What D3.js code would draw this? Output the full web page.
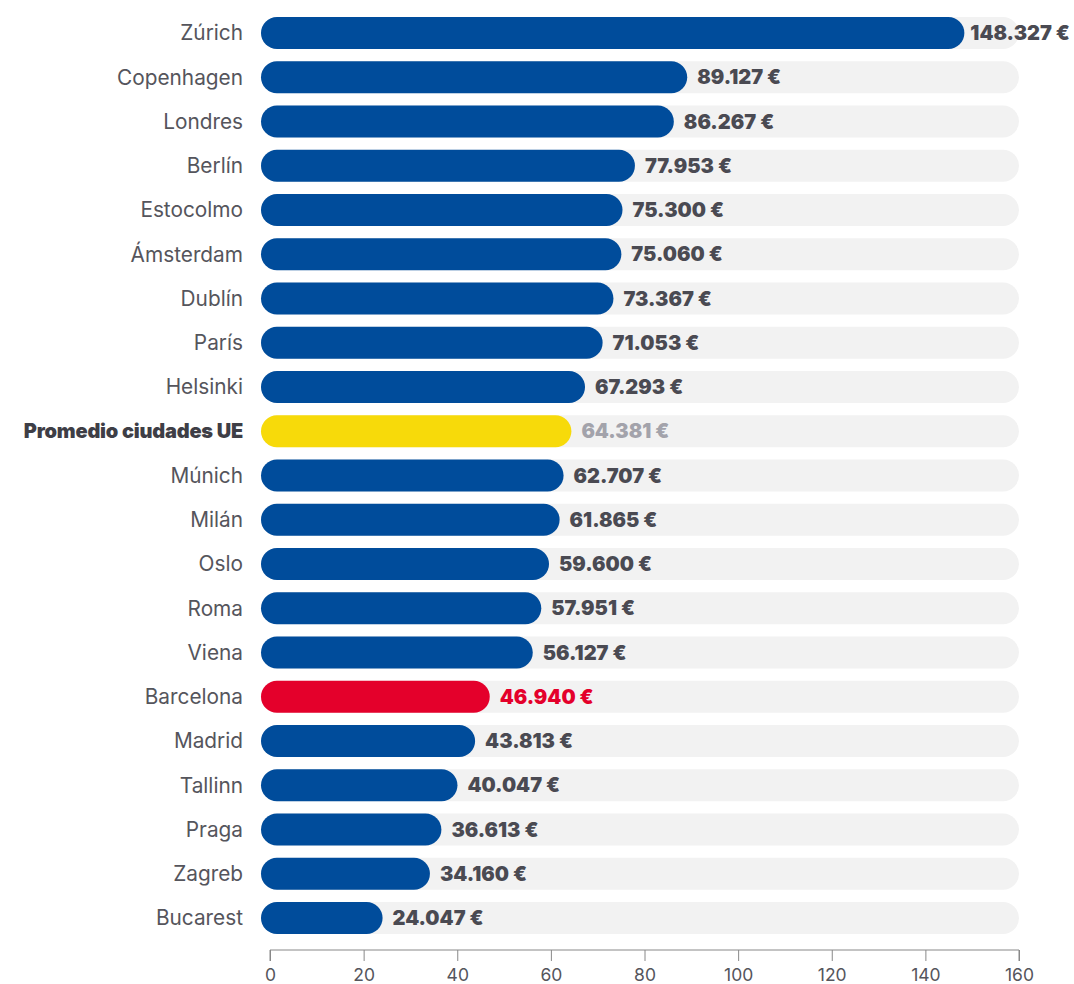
<!DOCTYPE html>
<html><head><meta charset="utf-8">
<script src="https://cdn.jsdelivr.net/npm/d3@7"></script>
<style>body{margin:0;background:#fff;} svg{display:block;}</style>
</head><body>
<script>
const categories = ["Zúrich","Copenhagen","Londres","Berlín","Estocolmo","Ámsterdam","Dublín","París","Helsinki","Promedio ciudades UE","Múnich","Milán","Oslo","Roma","Viena","Barcelona","Madrid","Tallinn","Praga","Zagreb","Bucarest"];
const values = [148327,89127,86267,77953,75300,75060,73367,71053,67293,64381,62707,61865,59600,57951,56127,46940,43813,40047,36613,34160,24047];
const tickValues = [0,20,40,60,80,100,120,140,160];

const W=1074,H=984;
const svg=d3.select("body").append("svg").attr("width",W).attr("height",H);
const x=d3.scaleLinear().domain([0,160]).range([270,1019]);
const y=d3.scalePoint().domain(categories).range([33,918]);
const bh=32;
const left=x(0)-9;
const AVG="Promedio ciudades UE";
const colorOf=c=>c===AVG?"#F7DA0A":(c==="Barcelona"?"#E4002B":"#004C9B");
const labelColor=c=>c===AVG?"#A3A3AB":(c==="Barcelona"?"#E4002B":"#4A4A52");

const rows=svg.append("g").selectAll("g").data(categories).join("g");
rows.append("rect").attr("x",left).attr("y",c=>y(c)-bh/2).attr("width",x(160)-left).attr("height",bh)
  .attr("rx",bh/2).attr("fill","#F2F2F2");
rows.append("rect").attr("x",left).attr("y",c=>y(c)-bh/2).attr("width",(c,i)=>x(values[i]/1000)-left).attr("height",bh)
  .attr("rx",bh/2).attr("fill",colorOf);
rows.append("text").attr("x",243).attr("y",c=>y(c)).attr("dy","0.36em").attr("text-anchor","end")
  .attr("font-family","Inter, 'Open Sans', sans-serif").attr("font-size",c=>c===AVG?20:20.8)
  .attr("font-weight",c=>c===AVG?900:400)
  .attr("fill",c=>c===AVG?"#3E3E46":"#55555C")
  .attr("letter-spacing",c=>c===AVG?"-0.2":"0")
  .text(c=>c);
rows.append("text").attr("x",(c,i)=>x(values[i]/1000)+(i===0?6:10)).attr("y",c=>y(c)).attr("dy","0.36em")
  .attr("font-family","Inter, sans-serif").attr("font-size",20).attr("font-weight",900)
  .attr("letter-spacing","0")
  .attr("fill",labelColor)
  .text((c,i)=>(values[i]/1000).toFixed(3)+" €");

const ax=svg.append("g").attr("transform","translate(0,950)")
  .call(d3.axisBottom(x).tickValues(tickValues).tickSize(11).tickPadding(8).tickFormat(d3.format("d")));
ax.select(".domain").attr("stroke","#888").attr("d",`M${x(0)},11V0H${x(160)}V11`);
ax.selectAll(".tick line").attr("stroke","#888");
ax.selectAll(".tick text").attr("fill","#55555C").attr("font-family","Inter, sans-serif").attr("font-size",17.5);
</script>
</body></html>
